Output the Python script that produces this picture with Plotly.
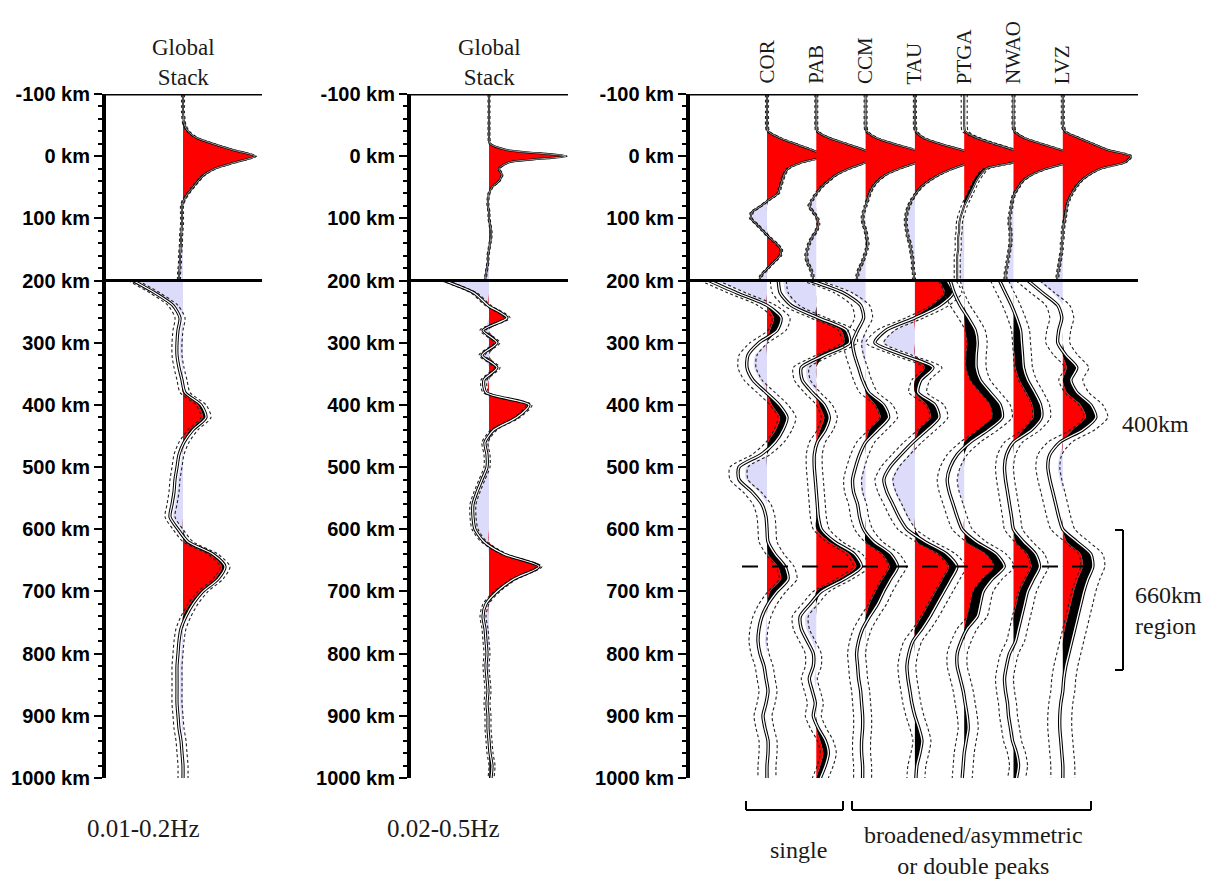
import plotly.graph_objects as go

W, H = 1211, 881

# ---------------- data ----------------
DEPTH_UPPER = list(range(-100, 201, 10))   # km, upper (-100..200) section samples
DEPTH_LOWER = list(range(200, 1001, 20))   # km, lower (200..1000) section samples

TICK_DEPTHS = [-100, 0, 100, 200, 300, 400, 500, 600, 700, 800, 900, 1000]
TICK_LABELS = ["-100 km", "0 km", "100 km", "200 km", "300 km", "400 km", "500 km",
               "600 km", "700 km", "800 km", "900 km", "1000 km"]

STACK_TITLE = "Global<br>Stack"
BAND_LABELS = ["0.01-0.2Hz", "0.02-0.5Hz"]
STATIONS = ["COR", "PAB", "CCM", "TAU", "PTGA", "NWAO", "LVZ"]

# amplitudes (arbitrary display units, positive = right of trace baseline)
STACK1_UPPER = [0, 0, 0, 0, 0.5, 1.5, 5, 13, 30, 50, 72, 52, 32, 21, 15, 10, 5, 1, -1, -1,
                -1, -1, -1.5, -2, -2, -2.5, -3, -3, -3.5, -4, -4]
STACK2_UPPER = [0, 0, 0, 0, 0, 0, 0, 0, 1, 18, 77, 20, 10, 13, 10, 3, 0, -1, -1, 0,
                0, 1, 2, 2, 1, 0, -1, -1, -2, -3, -4]
COR_UPPER = [0, 0, 0, 0, 0, 0, 1, 12, 28, 45, 58, 35, 21, 17, 15, 13, 11, 2, -6, -15,
             -16, -10, -4, 2, 9, 14, 13, 7, 1, -5, -8]
PAB_UPPER = [0, 0, 0, 0, 0, 0, 1, 12, 30, 48, 64, 50, 33, 20, 12, 5, 0, -4, -7, -3,
             1, 2, 0, -4, -7, -9, -10, -9, -6, -4, -3]
CCM_UPPER = [0, 0, 0, 0, 0, 0, 1, 10, 28, 50, 68, 52, 34, 20, 12, 7, 4, 2, 0, -2,
             -3, -2, 0, 1, 2, 1, -1, -3, -6, -8, -9]
TAU_UPPER = [0, 0, 0, 0, 0, 0, 1, 8, 25, 47, 65, 55, 38, 24, 14, 6, 1, -3, -6, -8,
             -9, -9, -8, -7, -5, -4, -3, -2, -2, -1, -1]
PTGA_UPPER = [0, 0, 0, 0, 0, 0, 1, 12, 30, 50, 67, 50, 22, 16, 12, 9, 6, 3, 0, -2,
              -4, -5, -5, -6, -6, -6, -7, -7, -7, -7, -7]
NWAO_UPPER = [0, 0, 0, 0, 0, 0, 1, 10, 28, 48, 66, 55, 33, 18, 9, 5, 1, -1, -2, -3,
              -4, -4, -3, -3, -3, -4, -5, -6, -7, -8, -8]
LVZ_UPPER = [0, 0, 0, 0, 0, 0, 2, 15, 30, 45, 68, 62, 38, 26, 18, 13, 9, 6, 4, 3,
             2, 1, 0, 0, -1, -1, -2, -3, -4, -5, -6]

STACK1_LOWER = [-50, -28, -10, -3, -5, -6, -6, -4, -1, 2,
                18, 23, 10, 1, -4, -6, -8, -9, -11, -13,
                -5, 5, 30, 42, 35, 20, 10, 3, -2, -4,
                -5, -6, -6, -6, -6, -5, -4, -2, -1, 0, 0]
STACK2_LOWER = [-45, -15, -1, 18, -6, 8, -7, 8, -5, -3,
                40, 28, 5, -4, -2, -2, -7, -12, -16, -16,
                -14, -5, 15, 50, 25, 8, -3, -6, -4, -3,
                -2, -3, -2, -1, -2, -1, -1, 0, 1, 3, 2]
COR_LOWER = [-58, -30, 0, 14, 10, -8, -19, -20, -14, -1,
             12, 20, 16, 8, -6, -28, -28, -15, -5, -1,
             0, 1, 8, 18, 21, 10, 1, -5, -8, -9,
             -7, -3, -1, 1, -1, -4, -2, 1, 1, 0, 0]
PAB_LOWER = [-38, -36, -25, 2, 30, 33, 8, -15, -14, -4,
             8, 13, 9, 1, -2, -2, -1, 0, 1, 2,
             5, 18, 38, 45, 28, 5, -6, -16, -15, -9,
             -3, -3, -7, -4, -1, -3, 2, 9, 12, 9, 4]
CCM_LOWER = [-55, -22, -5, -2, -8, -13, -11, -7, -3, 3,
             18, 23, 12, 0, -6, -10, -13, -12, -8, -6,
             -2, 8, 25, 32, 25, 18, 12, 4, -3, -7,
             -9, -8, -7, -5, -4, -3, -3, -4, -4, -3, -3]
TAU_LOWER = [32, 38, 25, 0, -29, -40, -12, 18, 6, 3,
             20, 24, 12, -2, -14, -25, -31, -28, -22, -16,
             -8, 10, 32, 42, 36, 29, 22, 15, 7, -2,
             -6, -8, -7, -5, -3, 0, 4, 7, 5, 2, 1]
PTGA_LOWER = [-14, -10, -4, 4, 11, 13, 12, 12, 16, 26,
              36, 38, 24, 6, -7, -14, -17, -15, -11, -7,
              -2, 12, 32, 40, 28, 19, 16, 13, 3, -3,
              -7, -7, -4, -1, 1, 3, 4, 2, 0, -1, -2]
NWAO_LOWER = [-14, -8, -2, 3, 7, 8, 9, 10, 14, 21,
              27, 28, 18, 0, -7, -9, -8, -6, -4, -2,
              0, 10, 22, 26, 20, 14, 11, 8, 5, 2,
              -4, -7, -9, -8, -6, -5, -3, -1, 3, 5, 3]
LVZ_LOWER = [-35, -20, -5, -1, -4, -5, 3, 14, 8, 14,
             28, 33, 20, -3, -13, -15, -13, -10, -7, -4,
             0, 14, 28, 30, 25, 21, 18, 15, 12, 9,
             6, 3, 1, 0, -2, -3, -3, -2, -1, 0, 0]

STACK_UPPER = [STACK1_UPPER, STACK2_UPPER]
STACK_LOWER = [STACK1_LOWER, STACK2_LOWER]
STATION_UPPER = [COR_UPPER, PAB_UPPER, CCM_UPPER, TAU_UPPER, PTGA_UPPER, NWAO_UPPER, LVZ_UPPER]
STATION_LOWER = [COR_LOWER, PAB_LOWER, CCM_LOWER, TAU_LOWER, PTGA_LOWER, NWAO_LOWER, LVZ_LOWER]

# uncertainty half-widths (display units): fill threshold, dashed bound
STACK_UNC_UPPER = [1.5, 1.0]
STACK_UNC_LOWER = [3, 2]
STACK_BOUND_LOWER = [5, 3]
STATION_UNC_UPPER = [1.5, 1.5, 1.5, 1.5, 3, 1.5, 1.5]
STATION_UNC_LOWER = [7, 5, 8, 8, 10, 8, 10]
STATION_BOUND_LOWER = [9, 8, 9, 9, 10, 9, 12]
MARKER_DEPTH = 660

# ---------------- styling ----------------
RED = "#ff0000"
LAV = "#dcdcfa"
SERIF = "Liberation Serif, Times New Roman, serif"
SANS = "Liberation Sans, Arial, sans-serif"
TXT = "#1a1a1a"
SPACING = 49.3

def PX(x):
    return x / W

def PY(y):
    return 1 - y / H

fig = go.Figure()


def add_wiggle(xa, ya, x0, depth, amp, unc, bound, outline, inner):
    common = dict(xaxis=xa, yaxis=ya, mode="lines", hoverinfo="skip", showlegend=False)
    sp = dict(shape="spline", smoothing=0.7)
    base = [x0] * len(depth)
    lav = [x0 + min(a + unc, 0) for a in amp]
    red = [x0 + max(a - unc, 0) for a in amp]
    pos = [x0 + max(a, 0) for a in amp]
    mid = [x0 + a for a in amp]
    lo = [x0 + a - bound for a in amp]
    hi = [x0 + a + bound for a in amp]
    fig.add_trace(go.Scatter(x=base, y=depth, line=dict(width=0), **common))
    fig.add_trace(go.Scatter(x=lav, y=depth, fill="tonextx", fillcolor=LAV,
                             line=dict(width=0, **sp), **common))
    fig.add_trace(go.Scatter(x=base, y=depth, line=dict(width=0), **common))
    fig.add_trace(go.Scatter(x=red, y=depth, fill="tonextx", fillcolor=RED,
                             line=dict(width=0, **sp), **common))
    fig.add_trace(go.Scatter(x=pos, y=depth, fill="tonextx", fillcolor="black",
                             line=dict(width=0, **sp), **common))
    for b in (lo, hi):
        fig.add_trace(go.Scatter(x=b, y=depth, line=dict(color="#222", width=1.1, dash="3px,2.5px", **sp),
                                 **common))
    fig.add_trace(go.Scatter(x=mid, y=depth, line=dict(color="black", width=outline, **sp), **common))
    fig.add_trace(go.Scatter(x=mid, y=depth, line=dict(color="white", width=inner, **sp), **common))


# global stacks (panels 1, 2)
for k in range(2):
    xa, ya = ("x", "y") if k == 0 else ("x2", "y2")
    add_wiggle(xa, ya, 0, DEPTH_UPPER, STACK_UPPER[k], STACK_UNC_UPPER[k], STACK_UNC_UPPER[k], 2.0, 0.6)
    add_wiggle(xa, ya, 0, DEPTH_LOWER, STACK_LOWER[k], STACK_UNC_LOWER[k], STACK_BOUND_LOWER[k], 3.2, 1.2)

# stations (panel 3)
for i in range(len(STATIONS)):
    x0 = i * SPACING
    add_wiggle("x3", "y3", x0, DEPTH_UPPER, STATION_UPPER[i], STATION_UNC_UPPER[i],
               STATION_UNC_UPPER[i], 2.0, 0.6)
    add_wiggle("x3", "y3", x0, DEPTH_LOWER, STATION_LOWER[i], STATION_UNC_LOWER[i],
               STATION_BOUND_LOWER[i], 3.4, 1.3)

# ---------------- axes ----------------
YDOM = [PY(778), PY(94)]
panels = [  # (pixel left, pixel right, pixel baseline)
    (106, 262, 183),
    (411, 568, 489),
    (690, 1138, 767),
]
layout_axes = {}
for n, (l, r, b) in enumerate(panels, start=1):
    sfx = "" if n == 1 else str(n)
    layout_axes["xaxis" + sfx] = dict(domain=[PX(l), PX(r)], range=[l - b, r - b],
                                      visible=False, anchor="y" + sfx, fixedrange=True)
    layout_axes["yaxis" + sfx] = dict(
        domain=YDOM, range=[1000, -100], anchor="x" + sfx,
        showline=True, linewidth=4, linecolor="black",
        ticks="outside", ticklen=8, tickwidth=2, tickcolor="black",
        tickvals=TICK_DEPTHS, ticktext=TICK_LABELS,
        tickfont=dict(family=SANS, size=20, color="black", weight="bold"),
        showgrid=False, zeroline=False, fixedrange=True, automargin=False,
        minor=dict(dtick=20, tick0=0, ticks="outside", ticklen=4, tickwidth=1.5,
                   tickcolor="black", showgrid=False),
    )

shapes = []
for n in range(1, 4):
    sfx = "" if n == 1 else str(n)
    for d in (-100, 200):
        shapes.append(dict(type="line", xref=f"x{sfx} domain", yref=f"y{sfx}",
                           x0=0, x1=1, y0=d, y1=d, line=dict(color="black", width=3),
                           layer="above"))
# 660 km reference line
shapes.append(dict(type="line", xref="x3", yref="y3", x0=-25, x1=316, y0=MARKER_DEPTH, y1=MARKER_DEPTH,
                   line=dict(color="black", width=2, dash="16px,14px"), layer="above"))
# right bracket (660 km region)
for (x0, y0, x1, y1) in [(1123, 530, 1123, 670), (1115, 530, 1123, 530), (1115, 670, 1123, 670)]:
    shapes.append(dict(type="line", xref="paper", yref="paper", x0=PX(x0), x1=PX(x1),
                       y0=PY(y0), y1=PY(y1), line=dict(color="black", width=2)))
# bottom brackets
for (a, b) in [(746, 843), (852, 1091)]:
    for (x0, y0, x1, y1) in [(a, 810, b, 810), (a, 801, a, 810), (b, 801, b, 810)]:
        shapes.append(dict(type="line", xref="paper", yref="paper", x0=PX(x0), x1=PX(x1),
                           y0=PY(y0), y1=PY(y1), line=dict(color="black", width=2)))

annotations = []
for cx in (183, 489):
    annotations.append(dict(text=STACK_TITLE, x=PX(cx), y=PY(92), xref="paper", yref="paper",
                            xanchor="center", yanchor="bottom", showarrow=False,
                            font=dict(family=SERIF, size=23, color=TXT)))
for i, name in enumerate(STATIONS):
    annotations.append(dict(text=name, x=i * SPACING, y=PY(86), xref="x3", yref="paper",
                            xanchor="center", yanchor="bottom", textangle=-90, showarrow=False,
                            font=dict(family=SERIF, size=21, color=TXT)))
for cx, lab in zip((143, 443), BAND_LABELS):
    annotations.append(dict(text=lab, x=PX(cx), y=PY(828), xref="paper", yref="paper",
                            xanchor="center", yanchor="middle", showarrow=False,
                            font=dict(family=SERIF, size=25, color=TXT)))
annotations.append(dict(text="400km", x=PX(1155), y=PY(424), xref="paper", yref="paper",
                        xanchor="center", yanchor="middle", showarrow=False,
                        font=dict(family=SERIF, size=24, color=TXT)))
annotations.append(dict(text="660km<br>region", x=PX(1133), y=PY(610), xref="paper", yref="paper",
                        xanchor="left", yanchor="middle", align="left", showarrow=False,
                        font=dict(family=SERIF, size=24, color=TXT)))
annotations.append(dict(text="single", x=PX(798), y=PY(850), xref="paper", yref="paper",
                        xanchor="center", yanchor="middle", showarrow=False,
                        font=dict(family=SERIF, size=24, color=TXT)))
annotations.append(dict(text="broadened/asymmetric<br>or double peaks", x=PX(973), y=PY(850),
                        xref="paper", yref="paper", xanchor="center", yanchor="middle",
                        showarrow=False, font=dict(family=SERIF, size=24, color=TXT)))

fig.update_layout(
    width=W, height=H, margin=dict(l=0, r=0, t=0, b=0, pad=0, autoexpand=False),
    autosize=False,
    paper_bgcolor="white", plot_bgcolor="white",
    showlegend=False, hovermode=False,
    shapes=shapes, annotations=annotations,
    **layout_axes,
)

fig.write_html("out.html", config={"displayModeBar": False, "responsive": False},
               post_script="document.body.style.margin='0';document.body.style.overflow='hidden';")
